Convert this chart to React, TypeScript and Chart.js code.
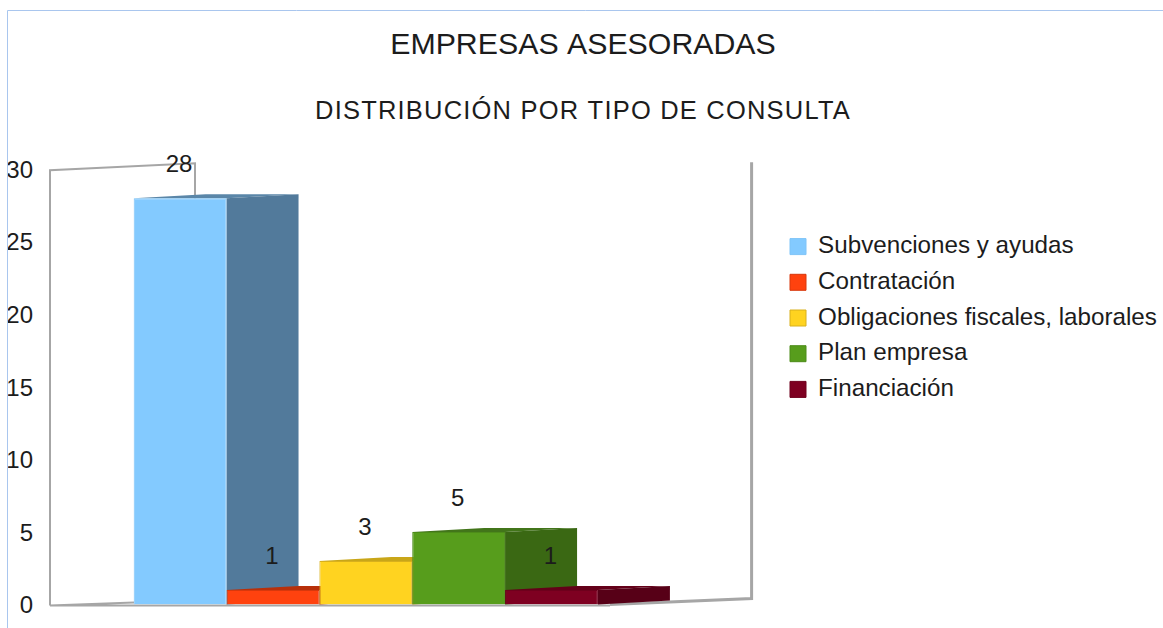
import React, { useEffect, useRef } from "react";
import { Chart, registerables } from "chart.js";

Chart.register(...registerables);

const title = "EMPRESAS ASESORADAS";
const subtitle = "DISTRIBUCIÓN POR TIPO DE CONSULTA";
const categories = [""];
const seriesNames = ["Subvenciones y ayudas", "Contratación", "Obligaciones fiscales, laborales", "Plan empresa", "Financiación"];
const seriesValues = [28, 1, 3, 5, 1];
const frontColors = ["#83caff", "#ff420e", "#ffd320", "#579d1c", "#7e0021"];
const sideColors = ["#527a9b", "#a92c09", "#b0921a", "#3a6813", "#570017"];
const topColors = ["#5a86a8", "#b8300a", "#c9a618", "#42751a", "#640019"];
const edgeColors = ["#7fc4f8", "#d8380c", "#d8b01c", "#4d8c19", "#6e001c"];

const DEPTH_X = 72;
const DEPTH_Y = 4;
const FONT = "'Liberation Sans', Arial, sans-serif";
const TEXT = "#1c1c1c";

const framePlugin = {
  id: "frame3d",
  beforeDatasetsDraw(chart: any) {
    const { ctx, chartArea: a } = chart;
    const y = chart.scales.y;
    const y0 = y.getPixelForValue(0);
    const yMax = y.getPixelForValue(30);
    const left = a.left;
    const backX = left + 145;
    const rightX = a.right + 70;
    ctx.save();
    // outer page border of the screenshot
    ctx.strokeStyle = "#a9c6ee";
    ctx.lineWidth = 1;
    ctx.beginPath();
    ctx.moveTo(7.5, 628);
    ctx.lineTo(7.5, 10.5);
    ctx.lineTo(1163, 10.5);
    ctx.stroke();
    // walls
    ctx.strokeStyle = "#a6a6a6";
    ctx.lineWidth = 2;
    ctx.beginPath();
    ctx.moveTo(left, y0 + 1);
    ctx.lineTo(left, yMax + 1);
    ctx.lineTo(backX, yMax - 6);
    ctx.lineTo(backX, y.getPixelForValue(28));
    ctx.stroke();
    ctx.lineWidth = 3;
    ctx.beginPath();
    ctx.moveTo(rightX, yMax - 7);
    ctx.lineTo(rightX, y0 - 6);
    ctx.lineTo(610, y0);
    ctx.stroke();
    ctx.lineWidth = 2;
    ctx.beginPath();
    ctx.moveTo(left, y0 + 1);
    ctx.lineTo(134, y0 - 2);
    ctx.moveTo(left, y0 + 1);
    ctx.lineTo(610, y0 + 1);
    ctx.stroke();
    // depth faces
    chart.data.datasets.forEach((_: any, i: number) => {
      const bar = chart.getDatasetMeta(i).data[0];
      const half = bar.width / 2;
      const l = bar.x - half;
      const r = bar.x + half;
      const t = bar.y;
      const b = bar.base;
      ctx.fillStyle = topColors[i];
      ctx.beginPath();
      ctx.moveTo(l, t);
      ctx.lineTo(l + DEPTH_X, t - DEPTH_Y);
      ctx.lineTo(r + DEPTH_X, t - DEPTH_Y);
      ctx.lineTo(r, t);
      ctx.closePath();
      ctx.fill();
      ctx.fillStyle = sideColors[i];
      ctx.beginPath();
      ctx.moveTo(r, t);
      ctx.lineTo(r + DEPTH_X, t - DEPTH_Y);
      ctx.lineTo(r + DEPTH_X, b - DEPTH_Y);
      ctx.lineTo(r, b);
      ctx.closePath();
      ctx.fill();
    });
    ctx.restore();
  },
  afterDatasetsDraw(chart: any) {
    const { ctx } = chart;
    ctx.save();
    ctx.font = `24px ${FONT}`;
    ctx.fillStyle = TEXT;
    ctx.textAlign = "center";
    ctx.textBaseline = "middle";
    chart.data.datasets.forEach((ds: any, i: number) => {
      const bar = chart.getDatasetMeta(i).data[0];
      ctx.fillText(String(ds.data[0]), bar.x - 1, bar.y - 33);
    });
    ctx.restore();
  },
  afterLayout(chart: any) {
    const legend = chart.legend;
    const pad = legend.options.labels.padding;
    legend.left = 790 - pad;
    legend.right = 1163;
    legend.top = 234.5 - pad;
    legend.bottom = 628;
    chart.boxes.forEach((b: any) => {
      if (b.position === "top") {
        b.left = 0;
        b.right = 1166;
        if (b.options.text === subtitle) {
          const proto = Object.getPrototypeOf(b);
          b.draw = function () {
            chart.ctx.letterSpacing = "1.2px";
            proto.draw.call(this);
            chart.ctx.letterSpacing = "0px";
          };
        }
      }
    });
  },
};

export default function App() {
  const ref = useRef<HTMLCanvasElement>(null);
  useEffect(() => {
    const canvas = ref.current!;
    canvas.getContext("2d", { alpha: false });
    const chart = new Chart(canvas, {
      type: "bar",
      data: {
        labels: categories,
        datasets: seriesNames.map((name, i) => ({
          label: name,
          data: [seriesValues[i]],
          backgroundColor: frontColors[i],
          borderColor: edgeColors[i],
          borderWidth: 1,
        })),
      },
      plugins: [
        {
          id: "white",
          beforeDraw(c: any) {
            c.ctx.save();
            c.ctx.fillStyle = "#ffffff";
            c.ctx.fillRect(0, 0, c.width, c.height);
            c.ctx.restore();
          },
        },
        framePlugin,
      ],
      options: {
        responsive: false,
        animation: false,
        layout: { padding: { left: 0, right: 93, top: 0, bottom: 22 } },
        datasets: { bar: { categoryPercentage: 0.735, barPercentage: 1 } },
        plugins: {
          title: {
            display: true,
            text: title,
            color: TEXT,
            font: { family: FONT, size: 30.3, weight: "normal" },
            padding: { top: 27, bottom: 33.3 },
          },
          subtitle: {
            display: true,
            text: subtitle,
            color: TEXT,
            font: { family: FONT, size: 25.5, weight: "normal" },
            padding: { top: 0, bottom: 42 },
          },
          legend: {
            display: true,
            position: "right",
            align: "start",
            maxWidth: 460,
            labels: {
              color: TEXT,
              boxWidth: 16,
              boxHeight: 16,
              padding: 11.5,
              font: { family: FONT, size: 24.2 },
            },
          },
          tooltip: { enabled: false },
        },
        scales: {
          x: { display: false },
          y: {
            min: 0,
            max: 30,
            afterFit(s: any) {
              s.width = 50;
            },
            grid: { display: false },
            border: { display: false },
            ticks: {
              stepSize: 5,
              padding: 9,
              labelOffset: 2,
              color: TEXT,
              font: { family: FONT, size: 24 },
            },
          },
        },
      },
    } as any);
    return () => chart.destroy();
  }, []);
  return (
    <canvas
      ref={ref}
      width={1163}
      height={628}
      style={{ position: "absolute", left: 0, top: 0, display: "block", filter: "blur(0.4px)" }}
    />
  );
}
